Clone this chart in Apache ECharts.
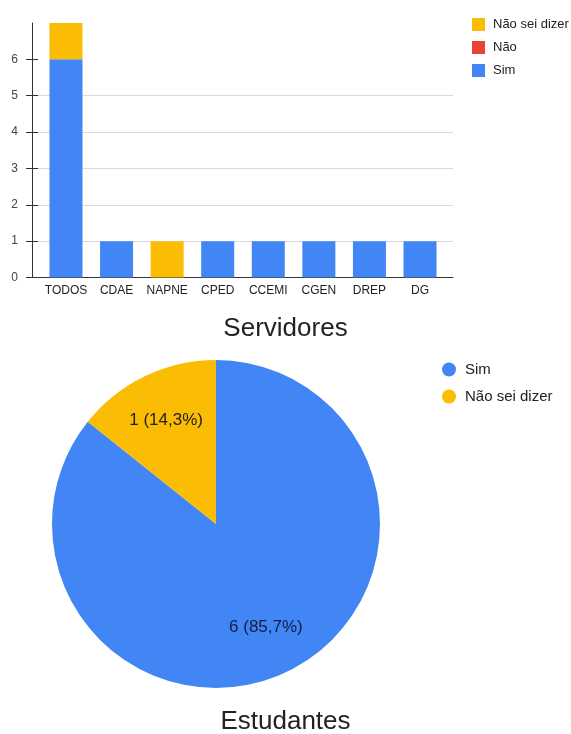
<!DOCTYPE html>
<html>
<head>
<meta charset="utf-8">
<script src="https://cdn.jsdelivr.net/npm/echarts@6/dist/echarts.min.js"></script>
<style>
html,body{margin:0;padding:0;background:#fff;}
#c{width:571px;height:734px;}
</style>
</head>
<body>
<div id="c"></div>
<script>
const categories = ['TODOS','CDAE','NAPNE','CPED','CCEMI','CGEN','DREP','DG'];
const simValues = [6,1,0,1,1,1,1,1];
const naoValues = [0,0,0,0,0,0,0,0];
const naoSeiValues = [1,0,1,0,0,0,0,0];
const yTicks = [0,1,2,3,4,5,6];
const barTitle = 'Servidores';
const pieNames = ['Sim','Não sei dizer'];
const pieValues = [6,1];
const pieTitle = 'Estudantes';

const FONT = "'Liberation Sans', Arial, sans-serif";
const BLUE = '#4285F4', RED = '#EA4335', YELLOW = '#FBBC04';

const chart = echarts.init(document.getElementById('c'), null, {renderer:'canvas'});
const total = pieValues.reduce((a,b)=>a+b,0);

const option = {
  animation:false,
  textStyle:{fontFamily:FONT},
  title:[
    {text:barTitle,left:'center',top:311,textStyle:{fontSize:26,fontWeight:'normal',color:'#222',fontFamily:FONT}},
    {text:pieTitle,left:'center',top:704,textStyle:{fontSize:26,fontWeight:'normal',color:'#222',fontFamily:FONT}}
  ],
  legend:[
    {orient:'vertical',left:467,top:13,icon:'rect',itemWidth:13,itemHeight:13,itemGap:10,
     data:['Não sei dizer','Não','Sim'],
     textStyle:{fontSize:13,color:'#222',fontFamily:FONT,padding:[0,0,0,3]}},
    {orient:'vertical',left:437,top:357,icon:'circle',itemWidth:14,itemHeight:14,itemGap:12,
     data:pieNames,
     textStyle:{fontSize:15,color:'#222',fontFamily:FONT,padding:[0,0,0,4]}}
  ],
  grid:[
    {left:32,right:118,top:23,bottom:456.5},
    {left:40.7,right:125.7,top:23,bottom:456.5}
  ],
  xAxis:[
    {gridIndex:0,type:'category',data:[''],axisLine:{show:true,lineStyle:{color:'#333',width:1}},axisTick:{show:false},axisLabel:{show:false},splitLine:{show:false}},
    {gridIndex:1,type:'category',data:categories,axisLine:{show:false},axisTick:{show:false},
     axisLabel:{fontSize:12,color:'#222',margin:7,fontFamily:FONT,interval:0}}
  ],
  yAxis:[
    {gridIndex:0,type:'value',min:0,max:7,interval:1,
     axisLine:{show:true,lineStyle:{color:'#333',width:1}},
     axisTick:{show:true,length:6,lineStyle:{color:'#333'},customValues:yTicks},
     axisLabel:{fontSize:12,color:'#444',margin:14,fontFamily:FONT,customValues:yTicks},
     splitLine:{show:true,showMaxLine:false,lineStyle:{color:'#d9d9d9',width:1}}},
    {gridIndex:0,type:'value',min:0,max:7,interval:1,position:'left',
     axisLine:{show:false},axisTick:{show:true,inside:true,length:6,lineStyle:{color:'#333'},customValues:yTicks},
     axisLabel:{show:false},splitLine:{show:false}},
    {gridIndex:1,type:'value',min:0,max:7,interval:1,show:false}
  ],
  series:[
    {name:'Sim',type:'bar',stack:'a',xAxisIndex:1,yAxisIndex:2,data:simValues,barWidth:33,itemStyle:{color:BLUE}},
    {name:'Não',type:'bar',stack:'a',xAxisIndex:1,yAxisIndex:2,data:naoValues,barWidth:33,itemStyle:{color:RED}},
    {name:'Não sei dizer',type:'bar',stack:'a',xAxisIndex:1,yAxisIndex:2,data:naoSeiValues,barWidth:33,itemStyle:{color:YELLOW}},
    {name:'pie',type:'pie',center:[216,524],radius:[0,164],startAngle:90,clockwise:true,
     label:{show:false},labelLine:{show:false},
     itemStyle:{borderWidth:0},
     data:pieNames.map((n,i)=>({name:n,value:pieValues[i],itemStyle:{color:[BLUE,YELLOW][i]}}))},
    {name:'pieLabels',type:'pie',center:[216,524],radius:[76,148],startAngle:90,clockwise:true,silent:true,
     legendHoverLink:false,
     itemStyle:{color:'rgba(0,0,0,0)',borderWidth:0},
     label:{show:true,position:'inside',fontSize:17,fontFamily:FONT,
       formatter:p=>p.value+' ('+(p.value/total*100).toFixed(1).replace('.',',')+'%)'},
     labelLine:{show:false},
     data:pieNames.map((n,i)=>({name:n,value:pieValues[i],label:{color:['#0e1f45','#222'][i]}}))}
  ]
};
chart.setOption(option);
</script>
</body>
</html>
